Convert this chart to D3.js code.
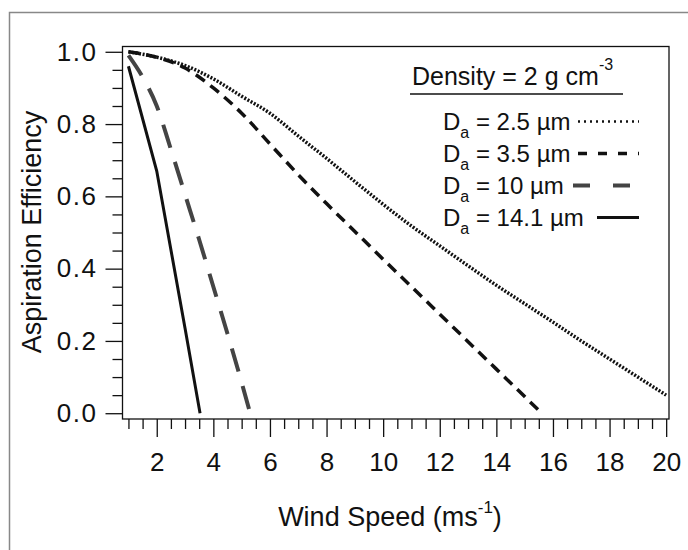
<!DOCTYPE html>
<html><head><meta charset="utf-8">
<script src="https://cdn.jsdelivr.net/npm/d3@7"></script>
<style>
body{margin:0;background:#fff;}
text{font-family:"Liberation Sans",Arial,sans-serif;fill:#111;}
</style></head>
<body><svg id="c" width="688" height="550"></svg>
<script>
// ---- data ----
const speed25 = [1,2,3,4,5,6,7,8,9,10,11,12,13,14,15,16,17,18,19,20];
const eff25   = [1.0,0.985,0.962,0.925,0.877,0.83,0.767,0.705,0.641,0.578,0.518,0.463,0.408,0.354,0.303,0.252,0.2,0.15,0.1,0.05];
const speed35 = [1,2,3,4,5,6,7,8,9,10,11,12,13,14,15,15.6];
const eff35   = [1.0,0.985,0.955,0.9,0.83,0.745,0.66,0.58,0.503,0.426,0.35,0.274,0.198,0.122,0.046,0.0];
const speed10 = [1,1.5,2,2.5,3,3.5,4,4.5,5,5.3];
const eff10   = [0.99,0.93,0.85,0.73,0.605,0.48,0.35,0.22,0.085,0.0];
const speed141 = [1,2,3,3.53];
const eff141   = [0.96,0.67,0.235,0.0];
const xMajor = [2,4,6,8,10,12,14,16,18,20];
const yMajor = [0,0.2,0.4,0.6,0.8,1.0];
const legendLabels = ["2.5 µm","3.5 µm","10 µm","14.1 µm"];

const FONT = "Liberation Sans, Arial, sans-serif";
const svg = d3.select("#c");
// outer border
svg.append("path").attr("d","M9.5,550 V12.5 H688").attr("fill","none").attr("stroke","#888").attr("stroke-width",1.5);

const x = d3.scaleLinear().domain([0.79,20.1]).range([122.5,669]);
const y = d3.scaleLinear().domain([-0.016,1.016]).range([419,46]);

// frame
svg.append("rect").attr("x",122.5).attr("y",46.5).attr("width",669-122.5).attr("height",419-46.5)
  .attr("fill","none").attr("stroke","#111").attr("stroke-width",1.3);

// x axis
const xMinor = d3.range(1,20.01,0.5).filter(v=>!xMajor.includes(v));
const gxm = svg.append("g").attr("transform","translate(0,419)")
  .call(d3.axisBottom(x).tickValues(xMinor).tickSize(10).tickFormat(""));
const gx = svg.append("g").attr("transform","translate(0,419)")
  .call(d3.axisBottom(x).tickValues(xMajor).tickSize(18).tickPadding(16).tickFormat(d3.format("d")));
[gxm,gx].forEach(g=>{g.select(".domain").remove(); g.selectAll("line").attr("stroke","#111").attr("stroke-width",1.3);});
gx.selectAll("text").attr("font-size",26).attr("font-family",FONT).attr("fill","#111");

// y axis
const yMinor = d3.range(0,1.0001,0.05).map(v=>+v.toFixed(2)).filter(v=>!yMajor.some(m=>Math.abs(m-v)<1e-6));
const gym = svg.append("g").attr("transform","translate(122.5,0)")
  .call(d3.axisLeft(y).tickValues(yMinor).tickSize(10).tickFormat(""));
const gy = svg.append("g").attr("transform","translate(122.5,0)")
  .call(d3.axisLeft(y).tickValues(yMajor).tickSize(17).tickPadding(8).tickFormat(d3.format(".1f")));
[gym,gy].forEach(g=>{g.select(".domain").remove(); g.selectAll("line").attr("stroke","#111").attr("stroke-width",1.3);});
gy.selectAll("text").attr("font-size",26).attr("font-family",FONT).attr("fill","#111").attr("letter-spacing",1.5);

// titles
const xt = svg.append("text").attr("x",390).attr("y",526).attr("text-anchor","middle").attr("font-size",27);
xt.append("tspan").text("Wind Speed (ms");
xt.append("tspan").text("-1").attr("font-size",17).attr("dy",-13);
xt.append("tspan").text(")").attr("dy",13);
svg.append("text").attr("transform","translate(41,232) rotate(-90)").attr("text-anchor","middle")
  .attr("font-size",27).text("Aspiration Efficiency");

// lines
const styles = [
  {xs:speed25, ys:eff25, color:"#111", w:3.5, dash:"2,1.6", ldash:"2,4", lw:2.5},
  {xs:speed35, ys:eff35, color:"#111", w:3.5, dash:"11,7", ldash:"9,11", lw:3.5},
  {xs:speed10, ys:eff10, color:"#444", w:4, dash:"24,15", ldash:"17,23", lw:4},
  {xs:speed141, ys:eff141, color:"#111", w:3, dash:null, ldash:null, lw:3}
];
styles.forEach((s,i)=>{
  const pts = s.xs.map((v,j)=>[v,s.ys[j]]);
  const line = d3.line().x(d=>x(d[0])).y(d=>y(d[1])).curve(i===3?d3.curveLinear:d3.curveMonotoneX);
  svg.append("path").attr("d",line(pts)).attr("fill","none").attr("stroke",s.color)
    .attr("stroke-width",s.w).attr("stroke-dasharray",s.dash);
});

// legend
const lt = svg.append("text").attr("x",412).attr("y",85).attr("font-size",25);
lt.append("tspan").text("Density = 2 g cm");
lt.append("tspan").text("-3").attr("font-size",16).attr("dy",-15);
svg.append("line").attr("x1",410).attr("x2",623).attr("y1",94).attr("y2",94).attr("stroke","#111").attr("stroke-width",1.6);
const rowY = [130,162,194,226];
const lineX1 = [578,578,573,597];
legendLabels.forEach((lab,i)=>{
  const t = svg.append("text").attr("x",443).attr("y",rowY[i]).attr("font-size",24);
  t.append("tspan").text("D");
  t.append("tspan").text("a").attr("font-size",16).attr("dy",8);
  t.append("tspan").text(" = "+lab).attr("dy",-8);
  svg.append("line").attr("x1",lineX1[i]).attr("x2",639).attr("y1",rowY[i]-8.5).attr("y2",rowY[i]-8.5)
    .attr("stroke",styles[i].color).attr("stroke-width",styles[i].lw).attr("stroke-dasharray",styles[i].ldash);
});
</script></body></html>
